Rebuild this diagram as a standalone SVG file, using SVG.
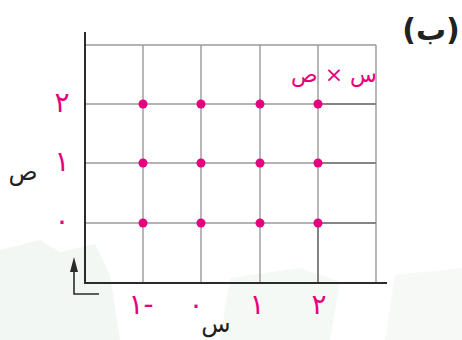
<svg xmlns="http://www.w3.org/2000/svg" width="462" height="340" viewBox="0 0 462 340">
<style>
.grid{stroke:#9a9a9a;stroke-width:1.4;fill:none}
.axis{stroke:#2b2b2b;stroke-width:2;fill:none}
.dot{fill:#e6007e}
.num{font-family:"DejaVu Sans",sans-serif;font-size:28px;fill:#e6007e;text-anchor:middle}
.lab{font-family:"DejaVu Sans",sans-serif;font-size:24px;fill:#222;text-anchor:middle}
</style>
<rect width="462" height="340" fill="#fff"/>
<g id="background" opacity="0.35">
<path d="M0,250 L40,240 L60,252 L95,244 L110,275 L120,340 L0,340 Z" fill="#dcebdf"/>
<path d="M230,278 L300,268 L340,282 L330,340 L220,340 Z" fill="#e4efe6"/>
<path d="M395,275 L462,268 L462,340 L385,340 Z" fill="#e6f0e8"/>
</g>
<g id="grid">
<path class="grid" d="M85,45 H376 M85,104 H376 M85,163 H376 M85,223 H376"/>
<path class="grid" d="M143,45 V282 M201,45 V282 M260,45 V282 M318,45 V282 M376,45 V282"/>
<path d="M318,104 H376 M318,163 H376 M318,223 H376 M318,223 V282" stroke="#777" stroke-width="1.6" fill="none"/>
</g>
<g id="axes">
<path class="axis" d="M85,32 V283 H387"/>
<path d="M99,294 H74 V270" stroke="#2b2b2b" stroke-width="1.6" fill="none"/>
<polygon points="74,257 70,272 78,272" fill="#2b2b2b"/>
</g>
<g id="points">
<circle class="dot" cx="143" cy="104" r="4.5"/><circle class="dot" cx="201" cy="104" r="4.5"/><circle class="dot" cx="260" cy="104" r="4.5"/><circle class="dot" cx="318" cy="104" r="4.5"/>
<circle class="dot" cx="143" cy="163" r="4.5"/><circle class="dot" cx="201" cy="163" r="4.5"/><circle class="dot" cx="260" cy="163" r="4.5"/><circle class="dot" cx="318" cy="163" r="4.5"/>
<circle class="dot" cx="143" cy="223" r="4.5"/><circle class="dot" cx="201" cy="223" r="4.5"/><circle class="dot" cx="260" cy="223" r="4.5"/><circle class="dot" cx="318" cy="223" r="4.5"/>
</g>
<g id="labels">
<text class="num" x="62" y="112">٢</text>
<text class="num" x="62" y="171">١</text>
<text class="num" x="62" y="230">٠</text>
<text class="num" x="141" y="314" style="unicode-bidi:bidi-override;direction:ltr">١-</text>
<text class="num" x="196" y="314">٠</text>
<text class="num" x="257" y="314">١</text>
<text class="num" x="319" y="314">٢</text>
<text class="lab" x="23" y="180">ص</text>
<text class="lab" x="216" y="332">س</text>
<text x="334" y="82" font-family="DejaVu Sans,sans-serif" font-size="22" fill="#e6007e" text-anchor="middle">س × ص</text>
<text x="431" y="40" font-family="DejaVu Sans,sans-serif" font-size="30" font-weight="bold" fill="#222" text-anchor="middle">(ب)</text>
</g>
</svg>
